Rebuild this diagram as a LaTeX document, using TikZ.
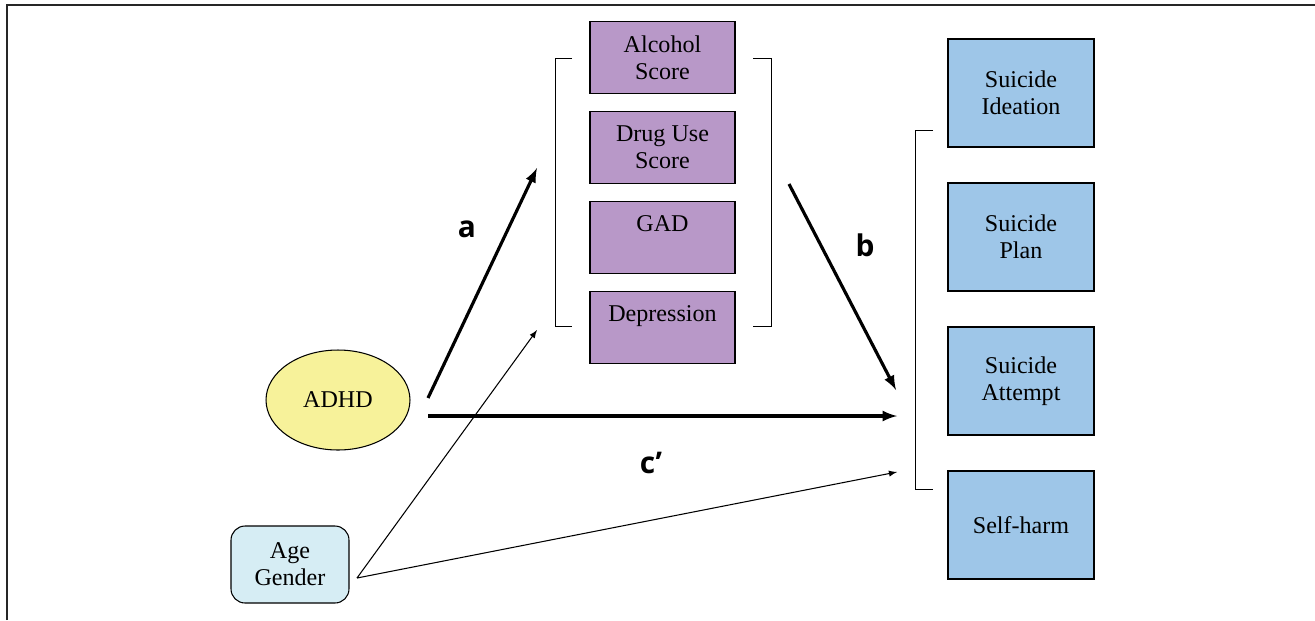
\documentclass[tikz,border=0pt]{standalone}
\usepackage{fontspec}
\setmainfont{Liberation Serif}
\newfontfamily\pathfont{Open Sans}
\usepackage{tikz}
\tikzset{>=latex}
\usetikzlibrary{shapes.geometric}
\definecolor{mediator}{HTML}{B898C8}
\definecolor{outcome}{HTML}{9EC6E8}
\definecolor{exposure}{HTML}{F7F29A}
\definecolor{covariate}{HTML}{D6EDF4}

\begin{document}
\begin{tikzpicture}[x=0.02cm, y=-0.02cm]
    \tikzset{box/.style = {draw, line width=0.6pt, align=center, inner sep=0pt, font=\fontsize{13.7}{15.5}\selectfont},
             medbox/.style = {box, fill=mediator, minimum width=2.9cm, minimum height=1.44cm},
             outbox/.style = {box, fill=outcome, minimum width=2.92cm, minimum height=2.16cm},
             bigpath/.style = {line width=1.8pt, ->},
             smallpath/.style = {line width=0.6pt, ->},
             pathlabel/.style = {font=\pathfont\fontsize{17}{20}\selectfont\bfseries}}
    \useasboundingbox (0, 0) rectangle (1315, 620);
    \draw[line width=0.9pt, black!85] (7, 620) -- (7, 5) -- (1315, 5);
    \foreach \name/\txt [count=\i] in {alcohol/{Alcohol\\Score}, drug/{Drug Use\\Score}, gad/{GAD\\~}, depression/{Depression\\~}} {
        \node[medbox] (\name) at (662.5, {57.5 + 90*(\i - 1)}) {\txt};
    }
    \foreach \name/\txt [count=\i] in {ideation/{Suicide\\Ideation}, plan/{Suicide\\Plan}, attempt/{Suicide\\Attempt}, selfharm/{Self-harm}} {
        \node[outbox] (\name) at (1021, {93 + 144*(\i - 1)}) {\txt};
    }
    \draw[thin] (572, 58) -- (555, 58) -- (555, 326) -- (572, 326);
    \draw[thin] (753, 58) -- (771, 58) -- (771, 326) -- (753, 326);
    \draw[thin] (933, 130) -- (915, 130) -- (915, 489) -- (933, 489);
    \node[ellipse, draw, line width=0.6pt, fill=exposure, minimum width=2.88cm, minimum height=2cm, font=\fontsize{13.7}{15.5}\selectfont] (adhd) at (338, 400) {ADHD};
    \node[box, fill=covariate, rounded corners=8pt, minimum width=2.36cm, minimum height=1.54cm] (covars) at (290, 564.5) {Age\\Gender};
    \coordinate (aStart) at (428, 398);
    \coordinate (aEnd) at (537, 168);
    \coordinate (bStart) at (789, 184);
    \coordinate (bEnd) at (896, 390);
    \coordinate (cStart) at (428, 416);
    \coordinate (cEnd) at (897, 416);
    \coordinate (covStart) at (357, 578);
    \coordinate (covMed) at (537, 330);
    \coordinate (covOut) at (897, 472);
    \draw[bigpath] (aStart) -- (aEnd);
    \draw[bigpath] (bStart) -- (bEnd);
    \draw[bigpath] (cStart) -- (cEnd);
    \draw[smallpath] (covStart) -- (covMed);
    \draw[smallpath] (covStart) -- (covOut);
    \node[pathlabel] (la) at (467, 229) {a};
    \node[pathlabel] (lb) at (865, 245) {b};
    \node[pathlabel] (lc) at (651, 463) {c’};
\end{tikzpicture}
\end{document}
